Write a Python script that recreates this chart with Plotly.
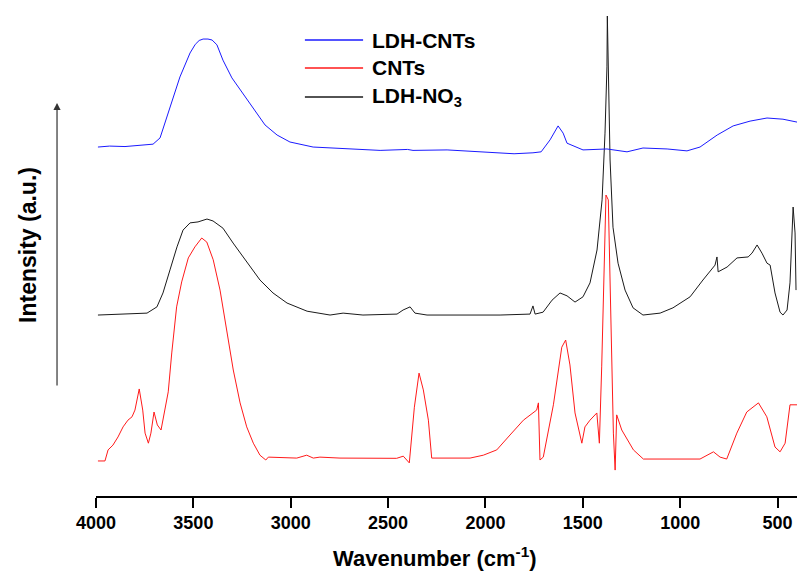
import plotly.graph_objects as go

# FTIR spectra, vertically offset for comparison (arbitrary intensity units)

# LDH-CNTs
ldh_cnts_wn = [3990, 3930, 3851, 3780, 3707, 3671, 3620, 3569, 3517, 3490, 3470, 3450, 3425,
               3404, 3379, 3348, 3302, 3245, 3194, 3132, 3070, 3004, 2885, 2711, 2541, 2400,
               2372, 2197, 2028, 1925, 1853, 1756, 1714, 1668, 1627, 1601, 1581, 1499, 1376,
               1273, 1191, 1067, 965, 898, 810, 728, 641, 554, 472, 400]
ldh_cnts_int = [72.7, 72.9, 72.8, 73.1, 73.3, 74.6, 81.0, 87.3, 92.3, 94.1, 94.9, 95.2, 95.2,
                95.0, 94.0, 90.8, 87.1, 83.9, 80.8, 77.3, 75.2, 73.75, 72.7, 72.3, 72.0, 72.2,
                72.0, 72.1, 71.7, 71.5, 71.3, 71.5, 71.7, 74.2, 77.1, 75.6, 73.5, 72.1, 72.3,
                71.7, 72.5, 72.3, 71.9, 72.7, 75.2, 77.1, 78.1, 78.75, 78.5, 77.9]

# CNTs
cnts_wn = [3990, 3954, 3938, 3913, 3887, 3861, 3836, 3815, 3800, 3778, 3760, 3748, 3731,
           3718, 3702, 3685, 3666, 3646, 3629, 3611, 3586, 3560, 3526, 3492, 3457, 3431,
           3398, 3363, 3329, 3295, 3260, 3226, 3192, 3158, 3128, 3115, 2969, 2918, 2884,
           2850, 2747, 2456, 2422, 2391, 2365, 2341, 2319, 2293, 2276, 2079, 2011, 1942,
           1874, 1805, 1737, 1728, 1720, 1703, 1651, 1608, 1588, 1566, 1540, 1505, 1489,
           1463, 1428, 1415, 1403, 1381, 1369, 1355, 1343, 1334, 1326, 1300, 1240, 1189,
           898, 829, 795, 761, 709, 658, 598, 555, 513, 487, 461, 436, 400]
cnts_int = [7.3, 7.3, 9.6, 10.6, 12.3, 14.4, 15.8, 16.5, 17.9, 22.3, 17.9, 13.1, 11.0,
            13.1, 17.5, 14.8, 13.75, 18.5, 21.7, 29.8, 39.4, 44.6, 49.6, 51.9, 53.75, 52.9,
            49.2, 42.9, 34.6, 26.25, 19.4, 14.4, 11.0, 8.5, 7.5, 8.1, 7.9, 8.5, 7.9,
            8.1, 7.9, 7.85, 8.3, 6.9, 18.5, 25.6, 22.1, 15.8, 7.9, 7.9, 8.5, 9.6,
            12.7, 15.8, 17.9, 19.4, 7.5, 8.1, 19.0, 31.0, 32.5, 27.3, 17.3, 11.0, 14.4,
            15.8, 17.3, 11.0, 26.9, 62.7, 61.7, 34.0, 13.1, 5.4, 16.9, 13.75, 9.6, 7.7,
            7.7, 9.2, 8.1, 7.7, 13.1, 17.5, 19.4, 16.5, 10.2, 9.2, 11.0, 19.0, 19.0]

# LDH-NO3
ldh_no3_wn = [3990, 3738, 3687, 3656, 3620, 3584, 3553, 3517, 3476, 3430, 3399, 3348, 3296,
              3224, 3158, 3091, 3019, 2916, 2798, 2731, 2629, 2454, 2423, 2387, 2362, 2300,
              1925, 1771, 1756, 1745, 1704, 1658, 1617, 1581, 1540, 1499, 1463, 1427, 1401,
              1386, 1376, 1374, 1370, 1360, 1345, 1319, 1283, 1242, 1191, 1103, 1037, 949,
              883, 847, 821, 811, 805, 759, 708, 651, 631, 605, 580, 554, 538, 513, 487,
              472, 451, 436, 428, 420, 410, 405]
ldh_no3_int = [37.7, 38.1, 39.4, 42.3, 47.1, 51.9, 55.4, 56.9, 57.1, 57.7, 57.3, 55.8, 52.7,
               48.75, 45.0, 42.3, 40.2, 38.5, 37.7, 38.1, 37.7, 37.9, 38.75, 39.4, 38.1, 37.7,
               37.7, 37.9, 39.6, 37.9, 38.3, 40.8, 42.3, 41.7, 40.4, 41.5, 44.4, 51.25, 61.7,
               75.6, 89.4, 100.0, 92.9, 70.0, 56.0, 48.5, 42.9, 39.2, 37.7, 38.1, 39.2, 41.5,
               45.0, 46.7, 48.1, 49.8, 46.7, 47.7, 49.6, 49.8, 50.6, 52.3, 50.6, 48.5, 48.1, 42.3, 38.3,
               37.7, 38.75, 44.4, 51.25, 60.2, 54.8, 42.9]

x_ticks = [4000, 3500, 3000, 2500, 2000, 1500, 1000, 500]

series = [
    ("LDH-NO<sub>3</sub>", ldh_no3_wn, ldh_no3_int, "#1a1a1a"),
    ("CNTs", cnts_wn, cnts_int, "#ff1a1a"),
    ("LDH-CNTs", ldh_cnts_wn, ldh_cnts_int, "#1a1aff"),
]
legend_order = ["LDH-CNTs", "CNTs", "LDH-NO<sub>3</sub>"]

FONT = "Liberation Sans, Arial, Helvetica, sans-serif"

fig = go.Figure()
for name, wn, inten, color in series:
    fig.add_trace(go.Scatter(x=wn, y=inten, mode="lines", name=name,
                             line=dict(color=color, width=1), showlegend=False))

# Hand-placed legend with long sample lines
colors = {n: c for n, _, _, c in series}
shapes = []
annotations = []
legend_y = [0.95, 0.8917, 0.8313]
for name, ly in zip(legend_order, legend_y):
    shapes.append(dict(type="line", xref="paper", yref="paper",
                       x0=0.298, x1=0.381, y0=ly, y1=ly,
                       line=dict(color=colors[name], width=1.5)))
    annotations.append(dict(xref="paper", yref="paper", x=0.391, y=ly,
                            xanchor="left", yanchor="middle", showarrow=False,
                            text=name, font=dict(family=FONT, size=21, color="black",
                                                 weight="bold")))

# Intensity arrow and axis label
annotations.append(dict(xref="paper", yref="paper", x=-0.0556, y=0.819,
                        ax=0, ay=284, axref="pixel", ayref="pixel", text="",
                        showarrow=True, arrowhead=2, arrowsize=1.2, arrowwidth=1.2,
                        arrowcolor="#333333"))
annotations.append(dict(xref="paper", yref="paper", x=-0.097, y=0.523,
                        xanchor="center", yanchor="middle", textangle=-90,
                        showarrow=False, text="Intensity (a.u.)",
                        font=dict(family=FONT, size=23, color="black", weight="bold")))
annotations.append(dict(xref="paper", yref="paper", x=0.484, y=-0.127,
                        xanchor="center", yanchor="middle", showarrow=False,
                        text="Wavenumber (cm<sup>-1</sup>)",
                        font=dict(family=FONT, size=22, color="black", weight="bold")))

fig.update_layout(
    width=797, height=576,
    margin=dict(l=96, r=0, t=16, b=80),
    paper_bgcolor="white", plot_bgcolor="white",
    shapes=shapes, annotations=annotations,
    xaxis=dict(range=[4000, 400], tickvals=x_ticks, ticks="outside", ticklen=10,
               tickwidth=1.5, tickcolor="black", showline=True, linecolor="black",
               linewidth=1.5, showgrid=False, zeroline=False,
               tickfont=dict(family=FONT, size=18, color="black", weight="bold")),
    yaxis=dict(range=[0, 100], visible=False),
)

fig.write_html("out.html")
